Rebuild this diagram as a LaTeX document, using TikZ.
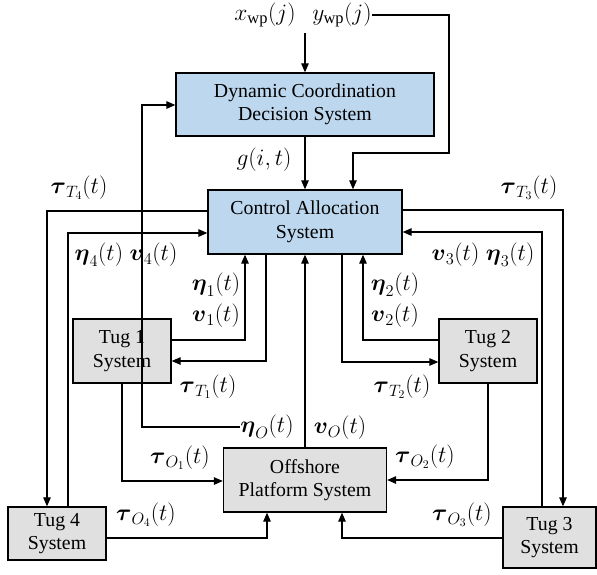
\RequirePackage{fix-cm}
\documentclass[tikz,border=0pt]{standalone}
\usepackage{amsmath}
\usepackage{fontspec}
\setmainfont{Liberation Serif}
\usetikzlibrary{arrows.meta,calc}
\definecolor{boxblue}{RGB}{189,215,238}
\definecolor{boxgray}{RGB}{224,224,224}
\tikzset{
  sysbox/.style={draw, line width=1.3pt, inner sep=0pt, align=center, font=\fontsize{19.8}{23.5}\selectfont},
  bluebox/.style={sysbox, fill=boxblue},
  graybox/.style={sysbox, fill=boxgray},
  lab/.style={inner sep=0pt, font=\fontsize{23.5}{28}\selectfont},
  conn/.style={line width=1.2pt, -{Triangle[length=9pt,width=7.5pt]}}
}
\begin{document}
\begin{tikzpicture}[x=1pt,y=-1pt]
\useasboundingbox (0,0) rectangle (597,574);
% boxes
\node[bluebox, minimum width=258pt, minimum height=63pt] (dcds) at (305,104.5) {Dynamic Coordination\\Decision System};
\node[bluebox, minimum width=194pt, minimum height=64pt] (cas) at (305,222) {Control Allocation\\System};
\node[graybox, minimum width=98pt, minimum height=64pt] (tug1) at (122,351) {Tug 1\\System};
\node[graybox, minimum width=98pt, minimum height=64pt] (tug2) at (488,351) {Tug 2\\System};
\node[graybox, minimum width=98pt, minimum height=53pt] (tug4) at (57,533.5) {Tug 4\\System};
\node[graybox, minimum width=93pt, minimum height=61pt] (tug3) at (549.5,537.5) {Tug 3\\System};
\node[graybox, minimum width=163pt, minimum height=64pt] (off) at (305,480) {Offshore\\Platform System};
% labels
\node[lab] (xwp) at (265,15) {$x_{\mathrm{wp}}(j)$};
\node[lab] (ywp) at (342,15) {$y_{\mathrm{wp}}(j)$};
\node[lab] (g) at (264,160) {$g(i,t)$};
\node[lab] (lT4) at (79,188) {$\boldsymbol{\tau}_{T_4}(t)$};
\node[lab] (l4) at (126,255) {$\boldsymbol{\eta}_4(t)\;\boldsymbol{v}_4(t)$};
\node[lab] (le1) at (216,285) {$\boldsymbol{\eta}_1(t)$};
\node[lab] (lv1) at (216,316) {$\boldsymbol{v}_1(t)$};
\node[lab] (lT1) at (208,387) {$\boldsymbol{\tau}_{T_1}(t)$};
\node[lab] (etaO) at (267,427) {$\boldsymbol{\eta}_O(t)$};
\node[lab] (lO1) at (180,458) {$\boldsymbol{\tau}_{O_1}(t)$};
\node[lab] (lO4) at (146,515) {$\boldsymbol{\tau}_{O_4}(t)$};
\node[lab] (lT3) at (529,188) {$\boldsymbol{\tau}_{T_3}(t)$};
\node[lab] (l3) at (483,255) {$\boldsymbol{v}_3(t)\;\boldsymbol{\eta}_3(t)$};
\node[lab] (le2) at (395,285) {$\boldsymbol{\eta}_2(t)$};
\node[lab] (lv2) at (395,316) {$\boldsymbol{v}_2(t)$};
\node[lab] (lT2) at (402,387) {$\boldsymbol{\tau}_{T_2}(t)$};
\node[lab] (lvO) at (340,428) {$\boldsymbol{v}_O(t)$};
\node[lab] (lO2) at (425,457) {$\boldsymbol{\tau}_{O_2}(t)$};
\node[lab] (lO3) at (462,515) {$\boldsymbol{\tau}_{O_3}(t)$};
% coordinates
\coordinate (wpin) at (305,33);
\coordinate (r1) at (449,153);
\coordinate (r2) at (353,153);
\coordinate (a1) at (47,211);
\coordinate (a2) at (68,233);
\coordinate (b1) at (245,340);
\coordinate (b2) at (266,361);
\coordinate (c1) at (363,340);
\coordinate (c2) at (342,362);
\coordinate (d1) at (563,210);
\coordinate (d2) at (542,232);
\coordinate (e1) at (122,481);
\coordinate (e2) at (488,480);
\coordinate (e3) at (342,538);
\coordinate (e4) at (267,538);
\coordinate (f1) at (142,105);
% connectors
\draw[conn] (wpin) -- (dcds.north);
\draw[conn] (ywp.east) -| (r1) -- (r2) -- (r2 |- cas.north);
\draw[conn] (dcds.south) -- (cas.north);
\draw[conn] (cas.west |- a1) -- (a1) -- (a1 |- tug4.north);
\draw[conn] (tug4.north -| a2) -- (a2) -- (a2 -| cas.west);
\draw[conn] (tug1.east |- b1) -- (b1) -- (b1 |- cas.south);
\draw[conn] (b2 |- cas.south) -- (b2) -- (b2 -| tug1.east);
\draw[conn] (c2 |- cas.south) -- (c2) -- (c2 -| tug2.west);
\draw[conn] (tug2.west |- c1) -- (c1) -- (c1 |- cas.south);
\draw[conn] (cas.east |- d1) -- (d1) -- (d1 |- tug3.north);
\draw[conn] (tug3.north -| d2) -- (d2) -- (d2 -| cas.east);
\draw[conn] (tug1.south) -- (e1) -- (e1 -| off.west);
\draw[conn] (tug2.south) -- (e2) -- (e2 -| off.east);
\draw[conn] (tug4.east |- e4) -- (e4) -- (e4 |- off.south);
\draw[conn] (tug3.west |- e3) -- (e3) -- (e3 |- off.south);
\draw[conn] (off.north) -- (off.north |- cas.south);
\draw[conn] (etaO.west) -| (f1) -- (f1 -| dcds.west);
\end{tikzpicture}
\end{document}
